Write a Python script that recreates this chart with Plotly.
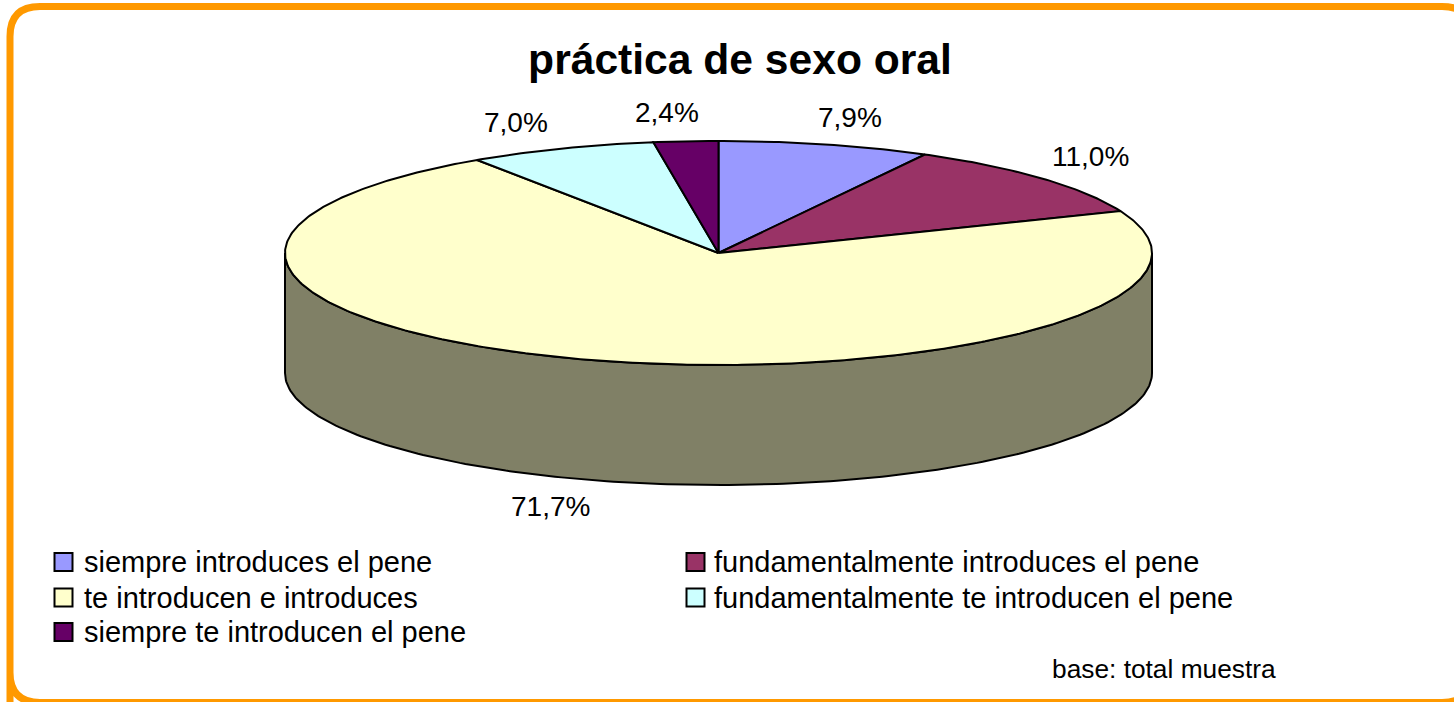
import numpy as np
import plotly.graph_objects as go

categories = ["siempre introduces el pene", "fundamentalmente introduces el pene",
              "te introducen e introduces", "fundamentalmente te introducen el pene",
              "siempre te introducen el pene"]
values = [7.9, 11.0, 71.7, 7.0, 2.4]
colors = ["#9999FF", "#993366", "#FFFFCC", "#CCFFFF", "#660066"]
side_color = "#808066"
label_pos = [(850, 117), (1090, 156), (550, 506), (516, 122), (667, 112)]
legend_pos = [(63.5, 562), (695.5, 562), (63.5, 597.5), (695.5, 597.5), (63.5, 632)]
legend_text_x = [81.5, 711.5, 81.5, 711.5, 81.5]

W, H = 1454, 702
CX, CY, RX, RY, DEPTH = 718.5, 253, 433.5, 112, 120
FONT = "Liberation Sans, Arial, sans-serif"
EDGE = dict(color="black", width=2)


def ellipse(theta, dy=0):
    return CX + RX * np.sin(theta), CY + dy - RY * np.cos(theta)


fig = go.Figure()

# side wall (front half of the disc)
t = np.linspace(np.pi / 2, 3 * np.pi / 2, 200)
x1, y1 = ellipse(t)
x2, y2 = ellipse(t[::-1], DEPTH)
fig.add_trace(go.Scatter(x=np.r_[x1, x2, x1[0]], y=np.r_[y1, y2, y1[0]], mode="lines",
                         fill="toself", fillcolor=side_color, line=EDGE,
                         showlegend=False, hoverinfo="skip"))

# top slices
edges = np.r_[0, np.cumsum(values)] / sum(values) * 2 * np.pi
for i, (name, col) in enumerate(zip(categories, colors)):
    t = np.linspace(edges[i], edges[i + 1], max(3, int(values[i] * 6)))
    ex, ey = ellipse(t)
    fig.add_trace(go.Scatter(x=np.r_[CX, ex, CX], y=np.r_[CY, ey, CY], mode="lines",
                             fill="toself", fillcolor=col, line=EDGE,
                             showlegend=False, name=name, hoverinfo="name"))

anns = [dict(x=px, y=py, text=f"{v:.1f}%".replace(".", ","), showarrow=False,
             xanchor="center", yanchor="middle", font=dict(size=28, color="black", family=FONT))
        for v, (px, py) in zip(values, label_pos)]

# legend entries
for name, col, (px, py), tx in zip(categories, colors, legend_pos, legend_text_x):
    fig.add_trace(go.Scatter(x=[px], y=[py], mode="markers", name=name, showlegend=False,
                             hoverinfo="name",
                             marker=dict(symbol="square", size=18, color=col,
                                         line=dict(color="black", width=2))))
    anns.append(dict(x=tx, y=py, text=name, showarrow=False, xanchor="left", yanchor="middle",
                     font=dict(size=29, color="black", family=FONT)))

anns.append(dict(x=1278, y=669, text="base: total muestra", showarrow=False, xanchor="right",
                 yanchor="middle", font=dict(size=26.3, color="black", family=FONT)))

r = 30
L, T, R, B = 10, 6.5, 1472, 702.5
border = (f"M {L} {B} L {L} {T+r} Q {L} {T} {L+r} {T} L {R-r} {T} Q {R} {T} {R} {T+r} "
          f"L {R} {B-r} Q {R} {B} {R-r} {B} L {L+r} {B} Q {L} {B} {L} {B-r} Z")

fig.update_layout(
    width=W, height=H, margin=dict(l=0, r=0, t=0, b=0),
    paper_bgcolor="white", plot_bgcolor="white",
    xaxis=dict(range=[0, W], visible=False, fixedrange=True),
    yaxis=dict(range=[H, 0], visible=False, fixedrange=True),
    title=dict(text="<b>práctica de sexo oral</b>", x=740 / W, xanchor="center",
               y=1 - 59 / H, yanchor="middle", font=dict(size=42.6, color="black", family=FONT)),
    showlegend=False,
    annotations=anns,
    shapes=[dict(type="path", path=border, line=dict(color="#FF9900", width=7),
                 fillcolor="rgba(0,0,0,0)", layer="above")],
)
fig.write_html("out.html", config=dict(displayModeBar=False),
               post_script="document.body.style.margin='0';document.body.style.overflow='hidden';")
